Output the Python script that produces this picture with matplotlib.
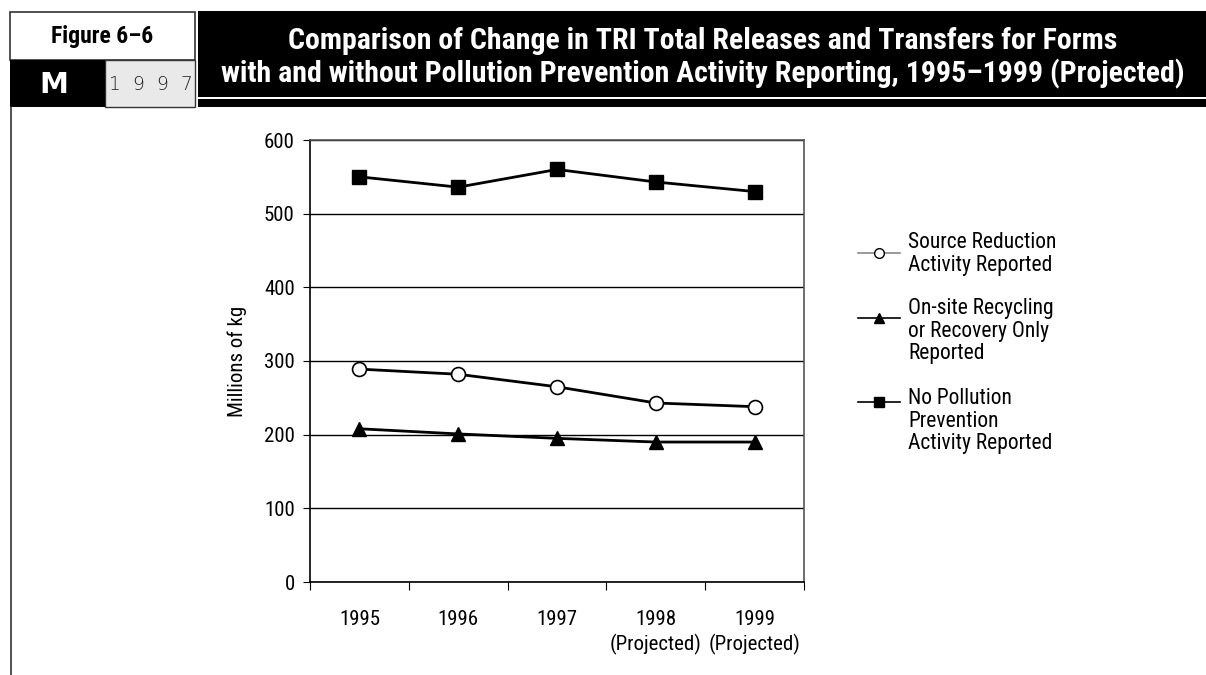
import matplotlib
matplotlib.use("Agg")
import matplotlib.pyplot as plt
from matplotlib.patches import Rectangle
from matplotlib.lines import Line2D

plt.rcParams['font.family'] = ['Roboto Condensed', 'Archivo Narrow', 'DejaVu Sans']

# Data (millions of kg)
years = ["1995", "1996", "1997", "1998\n(Projected)", "1999\n(Projected)"]
source_reduction = [289, 282, 265, 243, 238]
recycling_only = [208, 201, 195, 190, 190]
no_p2 = [550, 536, 560, 543, 530]

series_labels = ["Source Reduction\nActivity Reported",
                 "On-site Recycling\nor Recovery Only\nReported",
                 "No Pollution\nPrevention\nActivity Reported"]

W, H = 1206, 675
fig = plt.figure(figsize=(W / 100, H / 100), dpi=100)


def fx(x):
    return x / W


def fy(y):
    return 1 - y / H


def box(x0, y0, x1, y1, fc, ec="none", lw=0):
    fig.add_artist(Rectangle((fx(x0), fy(y1)), fx(x1) - fx(x0), fy(y0) - fy(y1),
                             transform=fig.transFigure, facecolor=fc,
                             edgecolor=ec, linewidth=lw))


# Header boxes
box(10, 12, 195, 60, "white", "#333333", 1.2)
box(105, 60, 195, 107, "#e9e9e9", "#333333", 1.0)
box(10, 60, 105, 107, "black")
box(198, 11, 1206, 97, "black")
box(198, 99, 1206, 107, "black")
fig.add_artist(Line2D([fx(11), fx(11)], [fy(107), fy(675)], transform=fig.transFigure,
                      color="#333333", lw=1.2))

fig.text(fx(102), fy(36), "Figure 6–6", ha="center", va="center",
         fontsize=17, fontweight="bold", color="black")
fig.text(fx(54), fy(85), "M", ha="center", va="center", fontsize=21,
         fontweight="bold", color="white", family="DejaVu Sans")
fig.text(fx(151), fy(85), "1  9  9  7", ha="center", va="center", fontsize=13.5,
         color="#222222", family="DejaVu Sans", fontweight="light")
fig.text(fx(703), fy(58), "Comparison of Change in TRI Total Releases and Transfers for Forms\n"
         "with and without Pollution Prevention Activity Reporting, 1995–1999 (Projected)",
         ha="center", va="center", fontsize=21.5, fontweight="bold", color="white",
         linespacing=1.15)

# Chart
ax = fig.add_axes([fx(310), fy(582), fx(804) - fx(310), fy(140) - fy(582)])
pos = [i + 0.5 for i in range(len(years))]

ax.plot(pos, no_p2, color="black", lw=2, marker="s", markersize=10,
        markerfacecolor="black", markeredgecolor="black", zorder=3)
ax.plot(pos, source_reduction, color="black", lw=2, marker="o", markersize=10,
        markerfacecolor="white", markeredgecolor="black", markeredgewidth=1.2, zorder=3)
ax.plot(pos, recycling_only, color="black", lw=2, marker="^", markersize=10,
        markerfacecolor="black", markeredgecolor="black", zorder=3)

ax.set_xlim(0, len(years))
ax.set_ylim(0, 600)
ax.set_yticks(range(0, 601, 100))
ax.yaxis.grid(True, color="black", lw=1)
ax.set_axisbelow(True)

# category ticks at the boundaries, labels in the middle
ax.set_xticks(range(len(years) + 1))
ax.set_xticklabels([])
ax.set_xticks(pos, minor=True)
ax.set_xticklabels(years, minor=True, fontsize=15, linespacing=1.3)
ax.tick_params(axis="x", which="minor", length=0, pad=20)
ax.tick_params(axis="x", which="major", length=6, direction="out", color="black")
ax.tick_params(axis="y", length=5, direction="out", labelsize=15, pad=6)

ax.spines["left"].set_color("black")
ax.spines["bottom"].set_color("black")
ax.spines["top"].set_color("#555555")
ax.spines["right"].set_color("#555555")
for s in ax.spines.values():
    s.set_linewidth(1.2)

ax.set_ylabel("Millions of kg", fontsize=15, labelpad=12)

# Legend drawn by hand to match the handle placement
legend_items = [
    (series_labels[0], "o", "white", "#888888", 253, 243),
    (series_labels[1], "^", "black", "black", 318, 309),
    (series_labels[2], "s", "black", "black", 402, 399),
]
for label, mk, mfc, lc, hy, ty in legend_items:
    fig.add_artist(Line2D([fx(858), fx(900)], [fy(hy), fy(hy)], transform=fig.transFigure,
                          color=lc, lw=1.2))
    fig.add_artist(Line2D([fx(879)], [fy(hy)], transform=fig.transFigure, marker=mk,
                          markersize=7, markerfacecolor=mfc, markeredgecolor="black",
                          markeredgewidth=1, linestyle="none"))
    fig.text(fx(908), fy(ty - 11), label, ha="left", va="top", fontsize=15.5,
             linespacing=1.1)

fig.savefig("out.png", dpi=100)
